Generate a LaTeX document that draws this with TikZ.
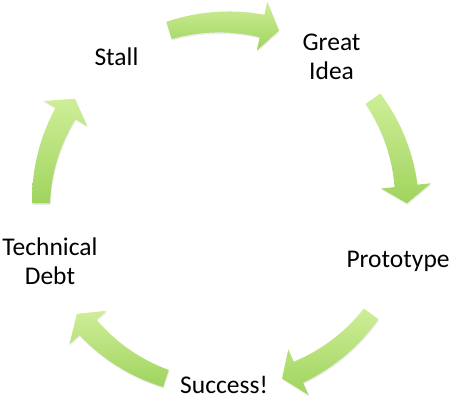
\documentclass[tikz,border=0pt]{standalone}
\usepackage{fontspec}
\setmainfont{Carlito}
\usetikzlibrary{shadows}
\definecolor{arrowlight}{RGB}{206,238,152}
\definecolor{arrowdark}{RGB}{160,212,94}
\tikzstyle{stage}=[align=center,
                   inner sep=0pt,
                   font=\fontsize{25.5}{29}\selectfont]
\tikzstyle{blockarrow}=[top color=arrowlight,
                        bottom color=arrowdark,
                        drop shadow={opacity=0.15,shadow xshift=0.5pt,shadow yshift=-1.5pt}]
% curved block arrow on the ring, centred at angle #1, running clockwise
\newcommand{\bentarrow}[1]{%
  \pgfmathsetmacro\tailang{#1+17.5}
  \pgfmathsetmacro\baseang{#1-12}
  \pgfmathsetmacro\tipang{#1-17.5}
  \path[blockarrow,shift={(c)}]
    plot[domain=\tailang:\baseang,samples=16] (\x:{192+2.5*(\tailang-\x)/29.5})
    -- (\baseang:208) -- (\tipang:183) -- (\baseang:158)
    -- plot[domain=\baseang:\tailang,samples=16] (\x:{174-2.5*(\tailang-\x)/29.5}) -- cycle;}

\begin{document}
\begin{tikzpicture}[x=1pt,y=1pt]
    \useasboundingbox (0,0) rectangle (454,400);
    \coordinate (c) at (224,195);
    \node[stage] (idea) at ([shift={(54:183pt)}]c) {Great\\Idea};
    \node[stage] (proto) at ([shift={(-18:183pt)}]c) {Prototype};
    \node[stage] (success) at ([shift={(-90:180pt)}]c) {Success!};
    \node[stage] (debt) at ([shift={(198:183pt)}]c) {Technical\\Debt};
    \node[stage] (stall) at ([shift={(126:183pt)}]c) {Stall};
    \bentarrow{90}
    \bentarrow{18}
    \bentarrow{-54}
    \bentarrow{-126}
    \bentarrow{162}
\end{tikzpicture}
\end{document}
